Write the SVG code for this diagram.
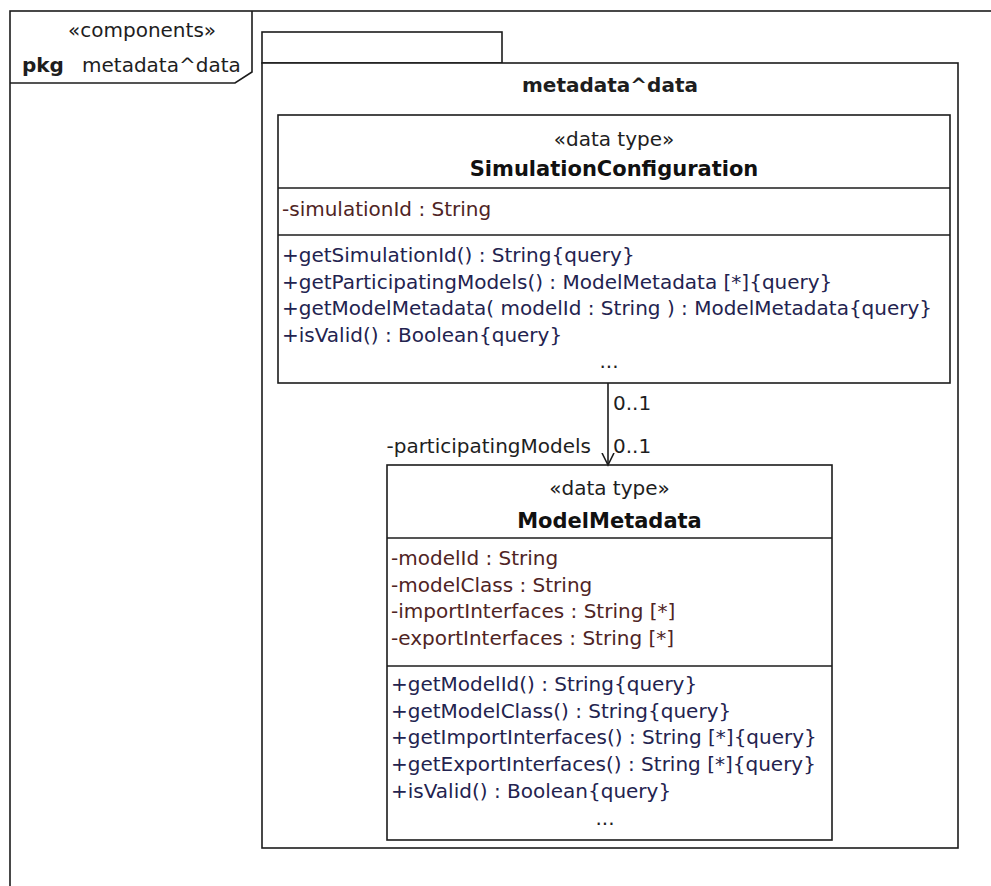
<svg xmlns="http://www.w3.org/2000/svg" width="991" height="886" viewBox="0 0 991 886">
  <defs>
    <style>
      .frame { fill: #ffffff; stroke: #1c1c1c; stroke-width: 1.6; }
      .rule { fill: none; stroke: #1c1c1c; stroke-width: 1.6; }
      text { font-family: "DejaVu Sans", Verdana, sans-serif; font-size: 20px; fill: #1e1e1e; }
      .b { font-weight: bold; }
      .name { font-weight: bold; font-size: 21px; fill: #111111; }
      .mid { text-anchor: middle; }
      .end { text-anchor: end; }
      .attr { fill: #4f2424; }
      .op { fill: #23234f; }
      .edge { fill: none; stroke: #1c1c1c; stroke-width: 1.6; }
    </style>
    <marker id="openArrow" viewBox="0 0 14 14" markerWidth="14" markerHeight="14" refX="12.5" refY="7" orient="auto" markerUnits="userSpaceOnUse">
      <path d="M0.5,1 L12.5,7 L0.5,13" fill="none" stroke="#1c1c1c" stroke-width="1.6"/>
    </marker>
  </defs>

  <rect x="0" y="0" width="991" height="886" fill="#ffffff"/>

  <!-- diagram frame with its name tab -->
  <g id="frame">
    <rect class="frame" x="10" y="11" width="1000" height="900"/>
    <path class="rule" d="M10,83 H235 L252,72 V11"/>
    <text x="68" y="37">«components»</text>
    <text class="b" x="22" y="72">pkg</text>
    <text x="82" y="72" font-size="19">metadata^data</text>
  </g>

  <!-- package metadata^data -->
  <g id="pkg-metadata-data">
    <rect class="frame" x="262" y="32" width="240" height="31"/>
    <rect class="frame" x="262" y="63" width="696" height="785"/>
    <text class="b mid" x="610" y="92">metadata^data</text>
  </g>

  <!-- data type SimulationConfiguration -->
  <g id="SimulationConfiguration">
    <rect class="frame" x="278" y="115" width="672" height="268"/>
    <line class="rule" x1="278" y1="188" x2="950" y2="188"/>
    <line class="rule" x1="278" y1="235" x2="950" y2="235"/>
    <text class="mid" x="614" y="146">«data type»</text>
    <text class="name mid" x="614" y="176">SimulationConfiguration</text>
    <text class="attr" x="282" y="216">-simulationId : String</text>
    <text class="op" x="282" y="262">+getSimulationId() : String{query}</text>
    <text class="op" x="282" y="288.7">+getParticipatingModels() : ModelMetadata [*]{query}</text>
    <text class="op" x="282" y="315.3">+getModelMetadata( modelId : String ) : ModelMetadata{query}</text>
    <text class="op" x="282" y="342">+isValid() : Boolean{query}</text>
    <text class="mid" x="609" y="368">...</text>
  </g>

  <!-- data type ModelMetadata -->
  <g id="ModelMetadata">
    <rect class="frame" x="387" y="465" width="445" height="375"/>
    <line class="rule" x1="387" y1="538" x2="832" y2="538"/>
    <line class="rule" x1="387" y1="666" x2="832" y2="666"/>
    <text class="mid" x="609.5" y="495">«data type»</text>
    <text class="name mid" x="609.5" y="528" font-size="20.5">ModelMetadata</text>
    <text class="attr" x="391" y="565">-modelId : String</text>
    <text class="attr" x="391" y="591.7">-modelClass : String</text>
    <text class="attr" x="391" y="618.3">-importInterfaces : String [*]</text>
    <text class="attr" x="391" y="645">-exportInterfaces : String [*]</text>
    <text class="op" x="391" y="691">+getModelId() : String{query}</text>
    <text class="op" x="391" y="717.7">+getModelClass() : String{query}</text>
    <text class="op" x="391" y="744.3">+getImportInterfaces() : String [*]{query}</text>
    <text class="op" x="391" y="771">+getExportInterfaces() : String [*]{query}</text>
    <text class="op" x="391" y="797.7">+isValid() : Boolean{query}</text>
    <text class="mid" x="605" y="825">...</text>
  </g>

  <!-- association SimulationConfiguration -> ModelMetadata -->
  <g id="connectors">
    <line class="edge" x1="608" y1="383" x2="608" y2="465" marker-end="url(#openArrow)"/>
    <text x="613" y="410">0..1</text>
    <text class="end" x="591" y="453">-participatingModels</text>
    <text x="613" y="453">0..1</text>
  </g>
</svg>
